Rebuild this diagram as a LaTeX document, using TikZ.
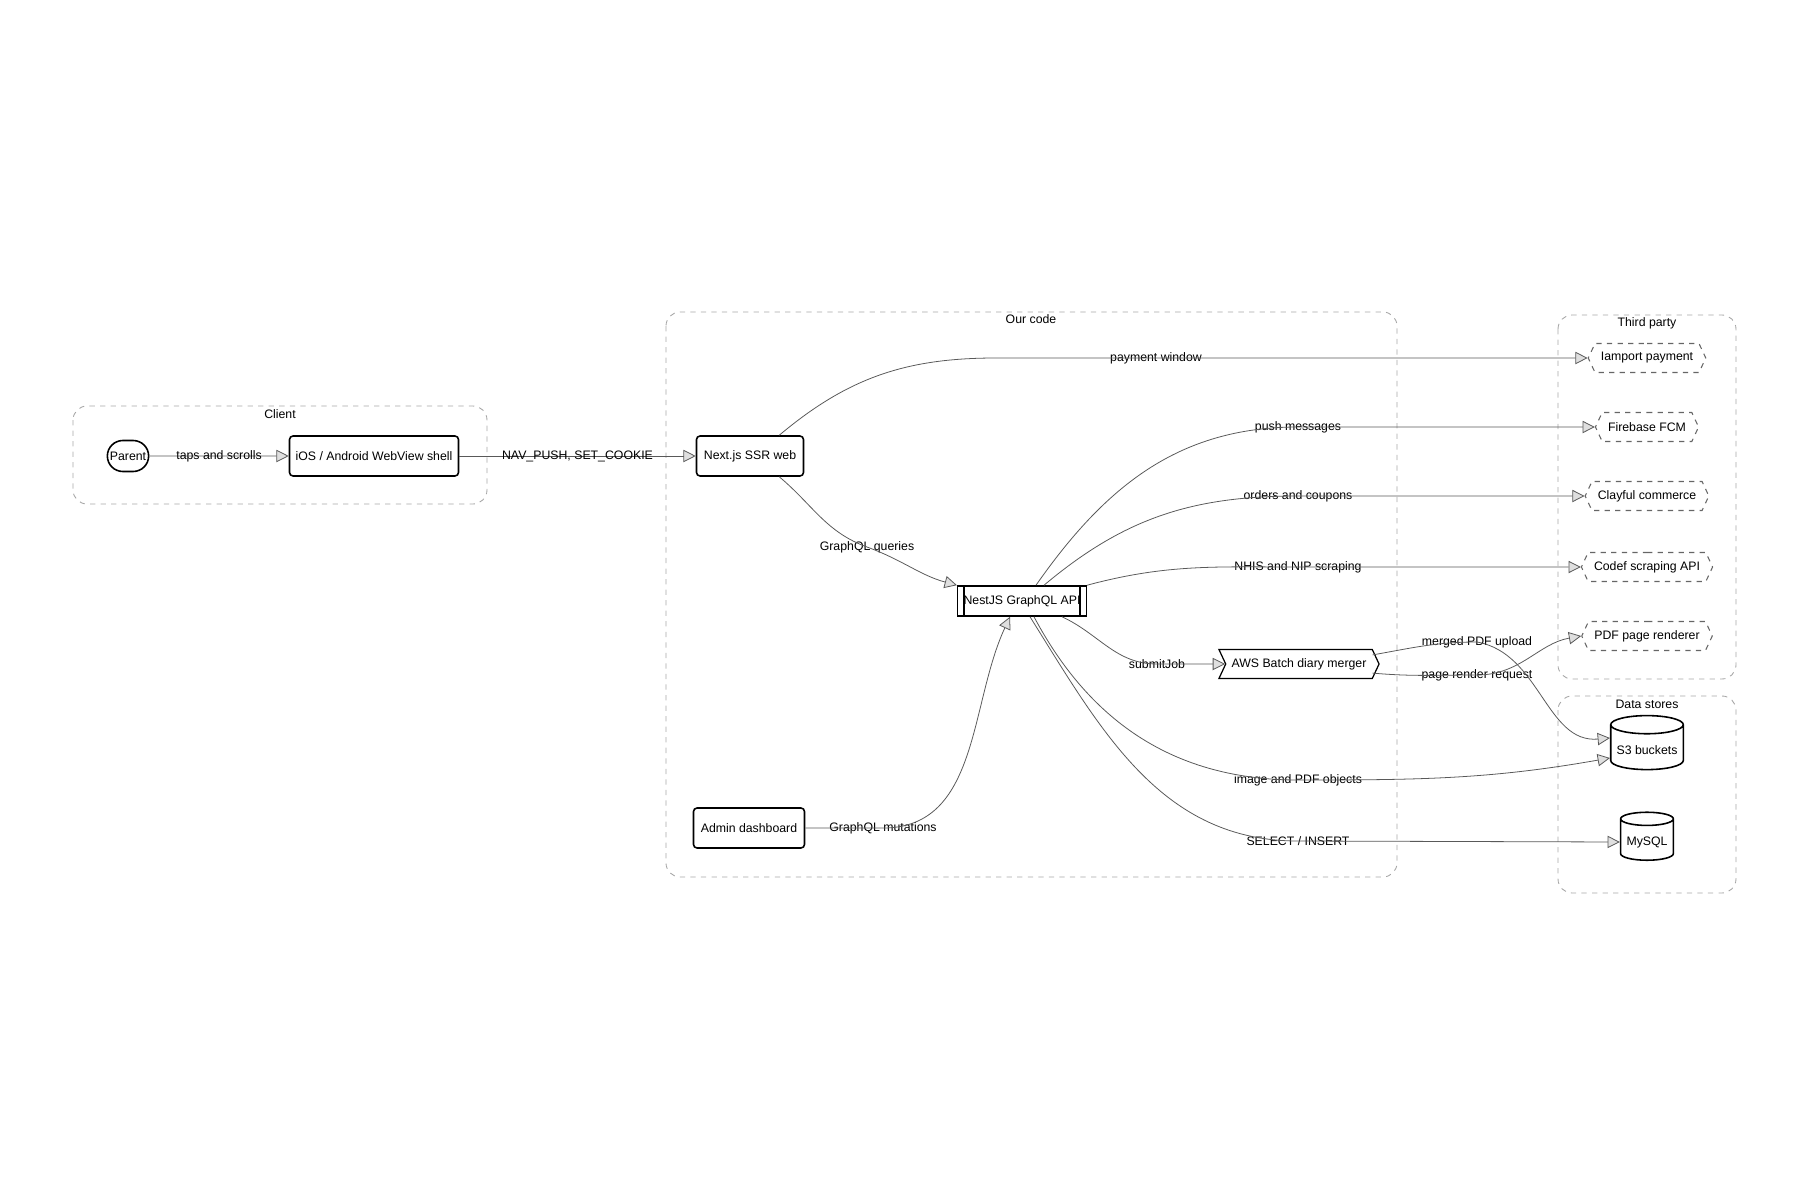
\documentclass[tikz,border=0pt]{standalone}
\usepackage{fontspec}
\setmainfont{Liberation Sans}
\usetikzlibrary{arrows.meta,calc,positioning,shapes.geometric,shapes.misc,shapes.symbols}
\tikzset{%
	cluster/.style  = {draw=gray!70, dashed, rounded corners=8pt, line width=0.5pt},
	ctitle/.style   = {font=\fontsize{7}{8}\selectfont, inner sep=0pt},
	block/.style    = {draw, line width=0.9pt, rounded corners=2pt, font=\fontsize{7}{8}\selectfont, minimum height=0.8cm},
	stadium/.style  = {draw, line width=0.9pt, rounded rectangle, font=\fontsize{7}{8}\selectfont, minimum height=0.62cm, minimum width=1.06cm},
	extern/.style   = {draw=gray!80!black, dashed, line width=0.6pt, signal, signal to=west and east, signal pointer angle=130, font=\fontsize{7}{8}\selectfont, minimum height=0.58cm},
	store/.style    = {draw, line width=0.9pt, cylinder, shape border rotate=90, aspect=0.25, font=\fontsize{7}{8}\selectfont},
	job/.style      = {draw, line width=0.7pt, signal, signal from=west, signal pointer angle=130, font=\fontsize{7}{8}\selectfont, minimum height=0.58cm, minimum width=2.84cm},
	lbl/.style      = {font=\fontsize{7}{8}\selectfont, inner sep=1pt},
	edge/.style     = {draw=gray!70!black, line width=0.45pt, -{Triangle[open, fill=gray!25, length=7pt, width=7pt]}},
}
\begin{document}
\begin{tikzpicture}[x=0.02cm,y=-0.02cm]
	\useasboundingbox (0,0) rectangle (1800,1200);
	% groups
	\draw[cluster] (73,406) rectangle (487,504);
	\node[ctitle] (tclient) at (280,414) {Client};
	\draw[cluster] (666,312) rectangle (1397,877);
	\node[ctitle] (tcode) at (1031,319) {Our code};
	\draw[cluster] (1558,315) rectangle (1736,679);
	\node[ctitle] (tthird) at (1647,323) {Third party};
	\draw[cluster] (1558,696) rectangle (1736,893);
	\node[ctitle] (tstores) at (1647,704) {Data stores};

	% nodes
	\node [stadium] (parent) at (128,456) {Parent};
	\node [block, minimum width=3.38cm] (shell) at (374,456) {iOS / Android WebView shell};
	\node [block, minimum width=2.14cm] (web) at (750,456) {Next.js SSR web};
	\node [block, rounded corners=0pt, minimum width=2.5cm, minimum height=0.6cm] (api) at (1022,601) {NestJS GraphQL API};
	\draw[line width=0.9pt] ($(api.north west)+(7,0)$) -- ($(api.south west)+(7,0)$)
		($(api.north east)+(-7,0)$) -- ($(api.south east)+(-7,0)$);
	\node [block, minimum width=2.22cm] (admin) at (749,828) {Admin dashboard};
	\node [job] (batch) at (1299,664) {AWS Batch diary merger};
	\node [extern, minimum width=2.26cm] (iamport) at (1647,358) {Iamport payment};
	\node [extern, minimum width=1.82cm] (fcm) at (1647,427) {Firebase FCM};
	\node [extern, minimum width=2.3cm] (clayful) at (1647,496) {Clayful commerce};
	\node [extern, minimum width=2.36cm] (codef) at (1647,567) {Codef scraping API};
	\node [extern, minimum width=2.38cm] (renderer) at (1647,636) {PDF page renderer};
	\node [store, minimum width=1.36cm, minimum height=1.08cm] (s3) at (1647,750) {S3 buckets};
	\node [store, minimum width=0.92cm, minimum height=0.96cm] (mysql) at (1647,842) {MySQL};

	% edge labels
	\node [lbl] (lpay) at (1156,358) {payment window};
	\node [lbl] (lqry) at (867,547) {GraphQL queries};
	\node [lbl] (lpush) at (1298,427) {push messages};
	\node [lbl] (lord) at (1298,496) {orders and coupons};
	\node [lbl] (lnhis) at (1298,567) {NHIS and NIP scraping};
	\node [lbl] (ljob) at (1157,664) {submitJob};
	\node [lbl] (lmerge) at (1477,642) {merged PDF upload};
	\node [lbl] (lrender) at (1477,675) {page render request};
	\node [lbl] (lobj) at (1298,780) {image and PDF objects};
	\node [lbl] (lsql) at (1298,841) {SELECT / INSERT};
	\node [lbl] (lmut) at (883,828) {GraphQL mutations};

	% edges
	\draw[edge] (parent) -- node[lbl] {taps and scrolls} (shell);
	\draw[edge] (shell) -- node[lbl] {NAV\_PUSH, SET\_COOKIE} (web);
	\draw[edge] (web.north east) ++(-25,0) to[out=40,in=180] ($(lpay.center)+(-160,0)$) -- (iamport);
	\draw[edge] (web.south east) ++(-25,0) to[out=-40,in=160] (lqry.center) to[out=-20,in=165] (api.north west);
	\draw[edge] ($(api.north)+(14,0)$) to[out=55,in=180] (lpush.center) -- (fcm);
	\draw[edge] ($(api.north)+(22,0)$) to[out=40,in=180] (lord.center) -- (clayful);
	\draw[edge] (api.north east) to[out=15,in=180] (lnhis.center) -- (codef);
	\draw[edge] ($(api.south east)+(-25,0)$) to[out=-25,in=180] (ljob.center) -- (batch);
	\draw[edge] (batch.north east) ++(0,6) to[out=10,in=180] (lmerge.center) to[out=-10,in=185] ($(s3.west)+(0,-12)$);
	\draw[edge] (batch.south east) ++(0,-6) to[out=-5,in=180] (lrender.center) to[out=0,in=190] (renderer.west);
	\draw[edge] ($(api.south)+(12,0)$) to[out=-62,in=180] (lobj.center) to[out=0,in=190] ($(s3.west)+(0,8)$);
	\draw[edge] ($(api.south)+(8,0)$) to[out=-58,in=180] (lsql.center) -- (mysql.west);
	\draw[edge] (admin) -- (lmut.center) to[out=0,in=-115] ($(api.south)+(-12,0)$);
\end{tikzpicture}
\end{document}
